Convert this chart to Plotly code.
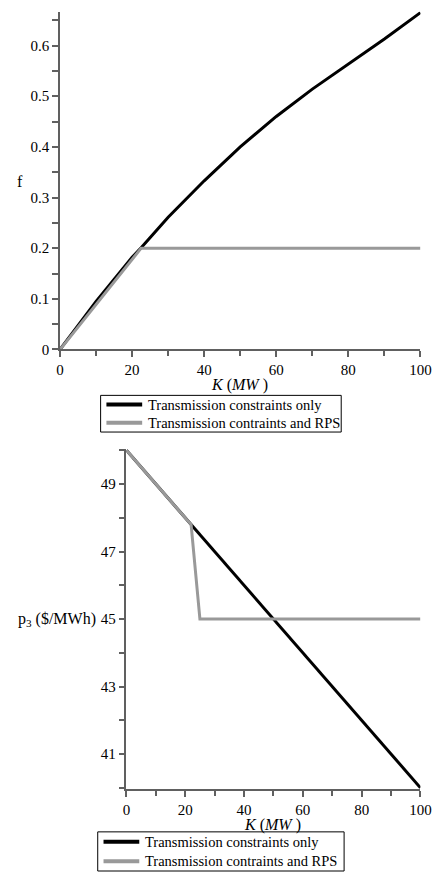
import plotly.graph_objects as go

# Top panel: f vs K
k_top_black = [0, 10, 20, 22.5, 30, 40, 50, 60, 70, 80, 90, 100]
f_black = [0, 0.095, 0.182, 0.201, 0.261, 0.333, 0.400, 0.460, 0.514, 0.563, 0.613, 0.665]
k_top_gray = [0, 22.5, 100]
f_gray = [0, 0.2, 0.2]

# Bottom panel: p3 vs K
k_bot_black = [0, 100]
p_black = [50, 40]
k_bot_gray = [0, 22, 25, 100]
p_gray = [50, 47.8, 45, 45]

legend_names = ["Transmission constraints only", "Transmission contraints and RPS"]
legend_colors = ["black", "#999999"]

W, H = 444, 880
FONT = "Liberation Serif, Times New Roman, serif"
AX = "#606060"
GRAY = "#999999"

fig = go.Figure()
fig.add_trace(go.Scatter(x=k_top_black, y=f_black, mode="lines", name=legend_names[0],
                         line=dict(color="black", width=3), xaxis="x", yaxis="y", showlegend=False))
fig.add_trace(go.Scatter(x=k_top_gray, y=f_gray, mode="lines", name=legend_names[1],
                         line=dict(color=GRAY, width=3), xaxis="x", yaxis="y", showlegend=False))
fig.add_trace(go.Scatter(x=k_bot_black, y=p_black, mode="lines", name=legend_names[0],
                         line=dict(color="black", width=3), xaxis="x2", yaxis="y2", showlegend=False))
fig.add_trace(go.Scatter(x=k_bot_gray, y=p_gray, mode="lines", name=legend_names[1],
                         line=dict(color=GRAY, width=3), xaxis="x2", yaxis="y2", showlegend=False))

def px_x(p):
    return p / W

def px_y(p):
    return 1 - p / H

common = dict(showgrid=False, zeroline=False, showline=True, linecolor=AX, linewidth=1.5,
              ticks="outside", ticklen=6, tickwidth=1.5, tickcolor=AX,
              tickfont=dict(family=FONT, size=15, color="black"))

fig.update_layout(
    width=W, height=H, autosize=False,
    margin=dict(l=0, r=0, t=0, b=0),
    paper_bgcolor="white", plot_bgcolor="white",
    font=dict(family=FONT, size=14, color="black"),
    showlegend=False,
    xaxis=dict(domain=[px_x(58), px_x(431)], range=[0, 100], dtick=20, tick0=0,
               minor=dict(dtick=10, ticks="outside", ticklen=5, tickcolor=AX, tickwidth=1.5),
               anchor="y", **common),
    yaxis=dict(domain=[px_y(352.7), px_y(11.7)], range=[0, 0.667], dtick=0.1, tick0=0,
               minor=dict(dtick=0.05, ticks="outside", ticklen=6, tickcolor=AX, tickwidth=1.5),
               anchor="x", **common),
    xaxis2=dict(domain=[px_x(126.7), px_x(431)], range=[0, 100], dtick=20, tick0=0,
                minor=dict(dtick=10, ticks="outside", ticklen=5, tickcolor=AX, tickwidth=1.5),
                anchor="y2", **common),
    yaxis2=dict(domain=[px_y(796.7), px_y(452.7)], range=[39.95, 50.05], dtick=2, tick0=41,
                minor=dict(dtick=1, tick0=40, ticks="outside", ticklen=6, tickcolor=AX, tickwidth=1.5),
                anchor="x2", **common),
)

ann = dict(xref="paper", yref="paper", showarrow=False, xanchor="center", yanchor="middle",
           font=dict(family=FONT, size=16, color="black"))
fig.add_annotation(x=px_x(244), y=px_y(389), text="<i>K</i> (<i>MW</i> )", **ann)
fig.add_annotation(x=px_x(278), y=px_y(833), text="<i>K</i> (<i>MW</i> )", **ann)
fig.add_annotation(x=px_x(17), y=px_y(183), text="f", **ann)
fig.add_annotation(x=px_x(55), y=px_y(625), text="p<sub>3</sub> ($/MWh)", **ann)

# Custom legends (box, sample lines, labels)
def add_legend(left, top, right, bottom):
    fig.add_shape(type="rect", xref="paper", yref="paper",
                  x0=px_x(left), x1=px_x(right), y0=px_y(bottom), y1=px_y(top),
                  line=dict(color="black", width=1), fillcolor="white", layer="above")
    row_h = (bottom - top) / 2
    for i, (nm, col) in enumerate(zip(legend_names, legend_colors)):
        yc = top + row_h * (i + 0.5)
        fig.add_shape(type="line", xref="paper", yref="paper",
                      x0=px_x(left + 6), x1=px_x(left + 43), y0=px_y(yc), y1=px_y(yc),
                      line=dict(color=col, width=4), layer="above")
        fig.add_annotation(xref="paper", yref="paper", x=px_x(left + 47), y=px_y(yc),
                           xanchor="left", yanchor="middle", showarrow=False, text=nm,
                           font=dict(family=FONT, size=14.5, color="black"))

add_legend(100, 399, 349, 436)
add_legend(97, 839.5, 352, 879)

fig.write_html("out.html", config={"displayModeBar": False},
               post_script="document.body.style.margin='0px';document.body.style.overflow='hidden';")
